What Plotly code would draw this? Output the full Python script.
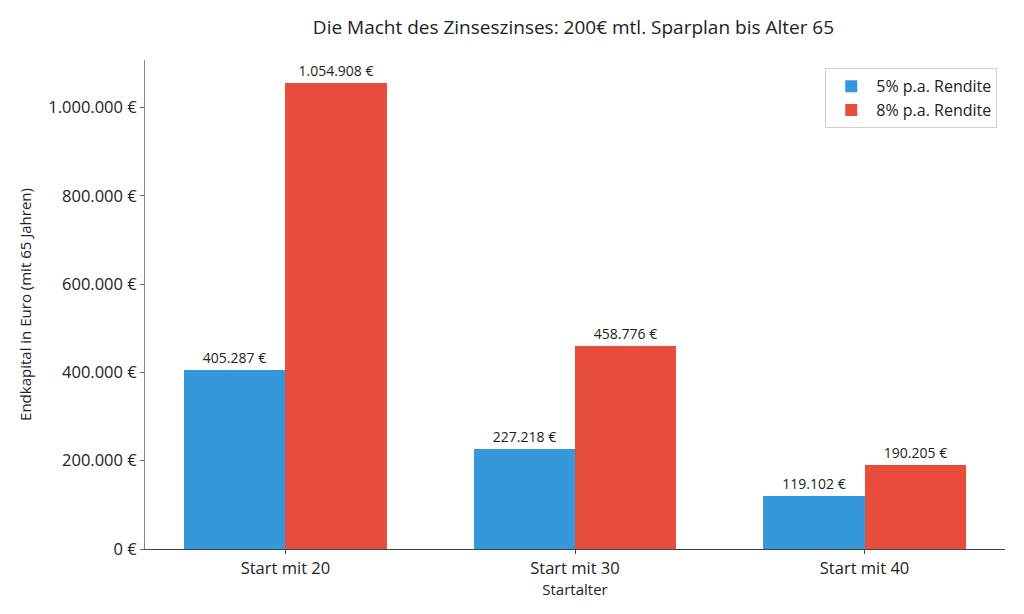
import plotly.graph_objects as go

categories = ["Start mit 20", "Start mit 30", "Start mit 40"]
series_names = ["5% p.a. Rendite", "8% p.a. Rendite"]
values_5 = [405287, 227218, 119102]
values_8 = [1054908, 458776, 190205]
colors = ["#3498db", "#e74c3c"]
ytick_vals = [0, 200000, 400000, 600000, 800000, 1000000]
ytick_text = [f"{v:,}".replace(",", ".") + " €" for v in ytick_vals]

FONT = "Open Sans"
fig = go.Figure()
for name, vals, col, off in [(series_names[0], values_5, colors[0], -0.175),
                             (series_names[1], values_8, colors[1], 0.175)]:
    fig.add_trace(go.Bar(
        x=[i + off for i in range(len(categories))], y=vals, name=name,
        width=0.35, marker=dict(color=col, line=dict(width=0)),
        texttemplate="%{y:,.0f} €", textposition="outside",
        textfont=dict(size=14, color="#222", family=FONT),
        cliponaxis=False,
    ))

# page body has an 8px margin, so the figure is offset by 8px
fig.update_layout(
    width=1008, height=598,
    separators=",.",
    paper_bgcolor="white", plot_bgcolor="white",
    margin=dict(l=137, r=11, t=52, b=57),
    title=dict(text="Die Macht des Zinseszinses: 200€ mtl. Sparplan bis Alter 65",
               x=0.561, xanchor="center", y=0.968, yanchor="middle",
               font=dict(size=19, color="#222", family=FONT)),
    font=dict(family=FONT, color="#222"),
    bargap=0, barmode="overlay",
    showlegend=True,
    legend=dict(x=0.991, y=0.983, xanchor="right", yanchor="top",
                bordercolor="#d0d0d0", borderwidth=1, bgcolor="white",
                itemwidth=40,
                font=dict(size=16, color="#222", family=FONT)),
)
fig.update_xaxes(
    range=[-0.485, 2.485], tickvals=list(range(len(categories))), ticktext=categories,
    showgrid=False, zeroline=False, showline=True, linecolor="#444", linewidth=1,
    ticks="outside", ticklen=4, tickcolor="#444",
    tickfont=dict(size=16.5, color="#222"),
    title=dict(text="Startalter", font=dict(size=15, color="#222"), standoff=0),
)
fig.update_yaxes(
    range=[0, 1054908 * 1.05], tickvals=ytick_vals, ticktext=ytick_text,
    showgrid=False, zeroline=False, showline=True, linecolor="#888", linewidth=1,
    ticks="outside", ticklen=4, tickcolor="#666",
    tickfont=dict(size=16.5, color="#222"),
    title=dict(text="Endkapital in Euro (mit 65 Jahren)", font=dict(size=15, color="#222"), standoff=13),
)
fig.write_html("out.html")
